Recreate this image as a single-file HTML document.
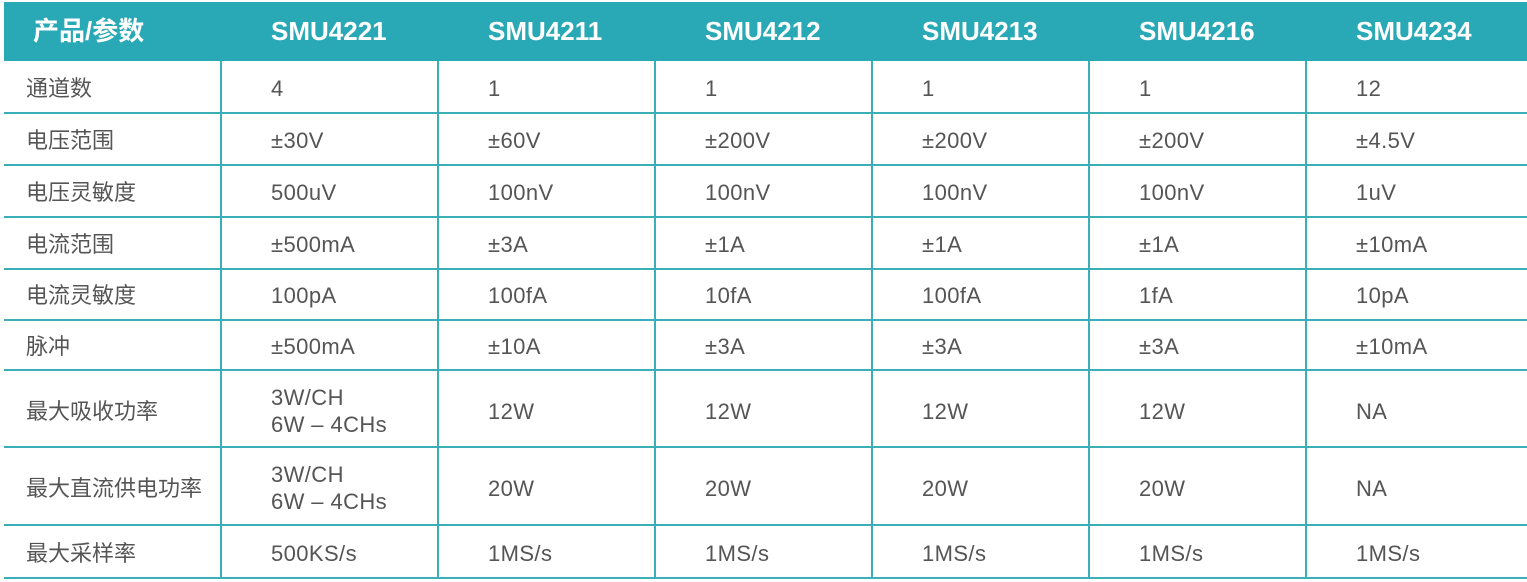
<!DOCTYPE html>
<html><head><meta charset="utf-8"><style>
body{margin:0;width:1527px;height:582px;background:#fff;overflow:hidden;font-family:"Liberation Sans","Noto Sans CJK SC",sans-serif;}
.hd{position:absolute;left:4px;top:2px;width:1523px;height:59px;background:#29a8b5;}
.t{position:absolute;white-space:nowrap;color:#555;font-size:22px;line-height:27px;letter-spacing:0.4px;}
.h{position:absolute;white-space:nowrap;color:#fff;font-size:26px;font-weight:bold;top:16px;line-height:30px;}
.hl{position:absolute;left:4px;width:1523px;height:2px;background:#3aaeb9;}
.vl{position:absolute;top:61px;height:517px;width:2px;background:#3aaeb9;}
</style></head><body>
<div class="hd"></div>
<div class="h" style="left:33px">产品/参数</div>
<div class="h" style="left:271px">SMU4221</div>
<div class="h" style="left:488px">SMU4211</div>
<div class="h" style="left:705px">SMU4212</div>
<div class="h" style="left:922px">SMU4213</div>
<div class="h" style="left:1139px">SMU4216</div>
<div class="h" style="left:1356px">SMU4234</div>
<div class="hl" style="top:112px"></div>
<div class="hl" style="top:164px"></div>
<div class="hl" style="top:216px"></div>
<div class="hl" style="top:268px"></div>
<div class="hl" style="top:319px"></div>
<div class="hl" style="top:369px"></div>
<div class="hl" style="top:446px"></div>
<div class="hl" style="top:524px"></div>
<div class="hl" style="top:577px"></div>
<div class="vl" style="left:220px"></div>
<div class="vl" style="left:437px"></div>
<div class="vl" style="left:654px"></div>
<div class="vl" style="left:871px"></div>
<div class="vl" style="left:1088px"></div>
<div class="vl" style="left:1305px"></div>
<div id="c"></div>
<script>
var rows=[
["通道数","4","1","1","1","1","12",75],
["电压范围","±30V","±60V","±200V","±200V","±200V","±4.5V",127],
["电压灵敏度","500uV","100nV","100nV","100nV","100nV","1uV",179],
["电流范围","±500mA","±3A","±1A","±1A","±1A","±10mA",231],
["电流灵敏度","100pA","100fA","10fA","100fA","1fA","10pA",282],
["脉冲","±500mA","±10A","±3A","±3A","±3A","±10mA",333],
["最大吸收功率","3W/CH<br>6W – 4CHs","12W","12W","12W","12W","NA",398],
["最大直流供电功率","3W/CH<br>6W – 4CHs","20W","20W","20W","20W","NA",475],
["最大采样率","500KS/s","1MS/s","1MS/s","1MS/s","1MS/s","1MS/s",540]];
var xs=[26,271,488,705,922,1139,1356],h="";
rows.forEach(function(r){for(var i=0;i<7;i++){var y=r[7];var s=r[i];if(s.indexOf("<br>")>=0)y-=27/2+1;h+='<div class="t" style="left:'+xs[i]+'px;top:'+y+'px'+(i==0?';letter-spacing:0':'')+'">'+s+'</div>';}});
document.getElementById("c").innerHTML=h;
</script>
</body></html>
